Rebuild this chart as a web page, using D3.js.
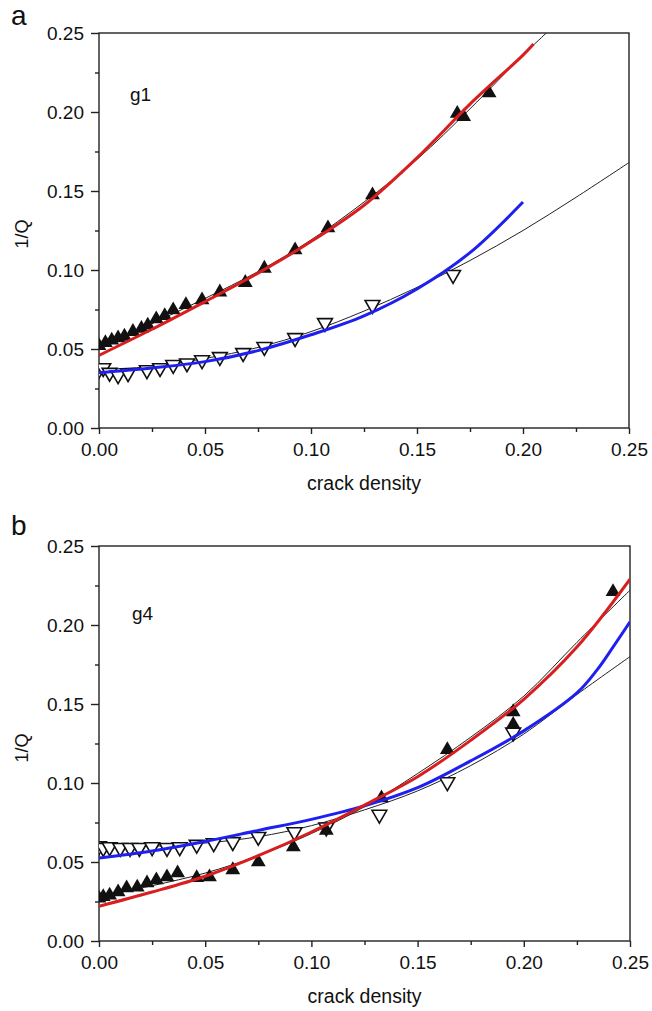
<!DOCTYPE html>
<html><head><meta charset="utf-8">
<script src="https://cdn.jsdelivr.net/npm/d3@7"></script>
<style>body{margin:0;background:#fff}svg{display:block}text{font-family:"Liberation Sans",Arial,sans-serif;fill:#111}</style>
</head><body><svg id="c" width="652" height="1011"></svg>
<script>
// ---------- data ----------
const xTicks = [0.00, 0.05, 0.10, 0.15, 0.20, 0.25];
const yTicks = [0.00, 0.05, 0.10, 0.15, 0.20, 0.25];
const xLabel = "crack density";
const yLabel = "1/Q";

// panel a (g1)
const aFilledX = [0.000,0.003,0.006,0.009,0.012,0.016,0.020,0.023,0.027,0.031,0.035,0.041,0.0486,0.057,0.069,0.078,0.0925,0.108,0.129,0.169,0.172,0.184];
const aFilledY = [0.052,0.054,0.0555,0.057,0.058,0.061,0.063,0.065,0.069,0.071,0.0747,0.078,0.081,0.086,0.092,0.101,0.1127,0.1266,0.1475,0.199,0.197,0.212];
const aOpenX = [0.000,0.002,0.005,0.009,0.0137,0.0226,0.0288,0.035,0.0415,0.0486,0.057,0.068,0.078,0.0925,0.1066,0.129,0.167];
const aOpenY = [0.037,0.038,0.035,0.0335,0.0348,0.0367,0.038,0.040,0.041,0.043,0.045,0.0475,0.0514,0.057,0.0665,0.078,0.097];
const aFitFilledX = [0,0.025,0.05,0.075,0.1,0.125,0.15,0.175,0.2,0.211];
const aFitFilledY = [0.050,0.066,0.082,0.099,0.119,0.143,0.170,0.202,0.236,0.250];
const aFitOpenX = [0,0.025,0.05,0.075,0.1,0.125,0.15,0.175,0.2,0.225,0.25];
const aFitOpenY = [0.037,0.039,0.044,0.051,0.061,0.074,0.089,0.106,0.125,0.146,0.168];
const aRedX = [0,0.025,0.05,0.075,0.1,0.125,0.15,0.175,0.2,0.205];
const aRedY = [0.046,0.0625,0.080,0.098,0.118,0.141,0.171,0.205,0.236,0.243];
const aBlueX = [0,0.025,0.05,0.075,0.1,0.125,0.15,0.175,0.2];
const aBlueY = [0.035,0.038,0.042,0.049,0.059,0.071,0.088,0.111,0.143];

// panel b (g4)
const bFilledX = [0.000,0.002,0.005,0.009,0.013,0.018,0.0226,0.027,0.032,0.037,0.046,0.052,0.063,0.075,0.0915,0.107,0.133,0.164,0.195,0.195,0.242];
const bFilledY = [0.027,0.028,0.029,0.031,0.0335,0.034,0.0367,0.0386,0.0405,0.043,0.040,0.0405,0.045,0.050,0.0595,0.070,0.0905,0.121,0.145,0.137,0.221];
const bOpenX = [0.000,0.002,0.005,0.010,0.0146,0.019,0.025,0.032,0.038,0.046,0.054,0.063,0.075,0.092,0.107,0.132,0.164,0.195];
const bOpenY = [0.060,0.059,0.0595,0.059,0.059,0.059,0.0595,0.059,0.0595,0.061,0.062,0.0627,0.066,0.069,0.072,0.080,0.1006,0.132];
const bFitFilledX = [0,0.025,0.05,0.075,0.1,0.125,0.15,0.175,0.2,0.225,0.25];
const bFitFilledY = [0.028,0.035,0.043,0.054,0.068,0.085,0.106,0.129,0.155,0.189,0.222];
const bFitOpenX = [0,0.025,0.05,0.075,0.1,0.125,0.15,0.175,0.2,0.225,0.25];
const bFitOpenY = [0.060,0.060,0.062,0.066,0.073,0.083,0.095,0.111,0.131,0.156,0.180];
const bRedX = [0,0.025,0.05,0.075,0.1,0.125,0.15,0.175,0.2,0.225,0.25];
const bRedY = [0.022,0.031,0.041,0.054,0.069,0.086,0.104,0.127,0.153,0.186,0.229];
const bBlueX = [0,0.025,0.05,0.075,0.1,0.125,0.15,0.175,0.2,0.225,0.2345,0.242,0.25];
const bBlueY = [0.0525,0.057,0.063,0.070,0.077,0.0855,0.097,0.114,0.133,0.157,0.1716,0.186,0.202];

const panels = [
  {letter:"a", tag:"g1", x0:99, x1:629, y0:428, y1:33, letterPos:[11,25], tagPos:[130,101], xlabY:490, ylabY:234,
   filledX:aFilledX, filledY:aFilledY, openX:aOpenX, openY:aOpenY,
   fits:[[aFitFilledX,aFitFilledY],[aFitOpenX,aFitOpenY]], red:[aRedX,aRedY], blue:[aBlueX,aBlueY]},
  {letter:"b", tag:"g4", x0:99, x1:630, y0:941, y1:546, letterPos:[11,535], tagPos:[132,620], xlabY:1003, ylabY:748,
   filledX:bFilledX, filledY:bFilledY, openX:bOpenX, openY:bOpenY,
   fits:[[bFitFilledX,bFitFilledY],[bFitOpenX,bFitOpenY]], red:[bRedX,bRedY], blue:[bBlueX,bBlueY]}
];

const svg = d3.select("#c");
panels.forEach(p => {
  const x = d3.scaleLinear().domain([0,0.25]).range([p.x0,p.x1]);
  const y = d3.scaleLinear().domain([0,0.25]).range([p.y0,p.y1]);
  const g = svg.append("g");
  const clipId = "clip"+p.letter;
  svg.append("clipPath").attr("id",clipId).append("rect")
    .attr("x",p.x0).attr("y",p.y1).attr("width",p.x1-p.x0).attr("height",p.y0-p.y1);

  // frame
  g.append("rect").attr("x",p.x0).attr("y",p.y1).attr("width",p.x1-p.x0).attr("height",p.y0-p.y1)
    .attr("fill","none").attr("stroke","#222").attr("stroke-width",1.4);

  // axes
  const minor = d3.range(0.025,0.25,0.05);
  const xa = g.append("g").attr("transform",`translate(0,${p.y0})`)
    .call(d3.axisBottom(x).tickValues(xTicks).tickFormat(d3.format(".2f")).tickSize(6).tickPadding(9));
  const xm = g.append("g").attr("transform",`translate(0,${p.y0})`)
    .call(d3.axisBottom(x).tickValues(minor).tickFormat("").tickSize(4));
  const ya = g.append("g").attr("transform",`translate(${p.x0},0)`)
    .call(d3.axisLeft(y).tickValues(yTicks).tickFormat(d3.format(".2f")).tickSize(8).tickPadding(7));
  const ym = g.append("g").attr("transform",`translate(${p.x0},0)`)
    .call(d3.axisLeft(y).tickValues(minor).tickFormat("").tickSize(4));
  [xa,xm,ya,ym].forEach(a => {
    a.select(".domain").remove();
    a.selectAll("line").attr("stroke","#222").attr("stroke-width",1.4);
    a.selectAll("text").attr("font-size",19).attr("font-family","Liberation Sans, Arial, sans-serif").attr("fill","#111");
  });

  // labels
  g.append("text").attr("x",p.letterPos[0]).attr("y",p.letterPos[1]).attr("font-size",28).text(p.letter);
  g.append("text").attr("x",p.tagPos[0]).attr("y",p.tagPos[1]).attr("font-size",19).text(p.tag);
  g.append("text").attr("x",(p.x0+p.x1)/2).attr("y",p.xlabY).attr("text-anchor","middle").attr("font-size",19.5).text(xLabel);
  g.append("text").attr("transform",`translate(28,${p.ylabY}) rotate(-90)`).attr("text-anchor","middle").attr("font-size",18).text(yLabel);

  const plot = g.append("g").attr("clip-path",`url(#${clipId})`);
  const line = d3.line().x(d=>x(d[0])).y(d=>y(d[1])).curve(d3.curveCatmullRom.alpha(0.5));
  const zip = (xs,ys) => xs.map((v,i)=>[v,ys[i]]);

  // thin black fits
  p.fits.forEach(f => plot.append("path").attr("d",line(zip(f[0],f[1])))
    .attr("fill","none").attr("stroke","#222").attr("stroke-width",1));

  // open down triangles
  const tri = d3.symbol().type(d3.symbolTriangle).size(95);
  plot.selectAll(null).data(zip(p.openX,p.openY)).join("path")
    .attr("d",tri).attr("transform",d=>`translate(${x(d[0])},${y(d[1])}) rotate(180)`)
    .attr("fill","#fff").attr("stroke","#111").attr("stroke-width",1.6);
  // filled up triangles
  plot.selectAll(null).data(zip(p.filledX,p.filledY)).join("path")
    .attr("d",tri).attr("transform",d=>`translate(${x(d[0])},${y(d[1])})`)
    .attr("fill","#111");

  // model curves
  plot.append("path").attr("d",line(zip(p.blue[0],p.blue[1])))
    .attr("fill","none").attr("stroke","#1f1ff0").attr("stroke-width",3);
  plot.append("path").attr("d",line(zip(p.red[0],p.red[1])))
    .attr("fill","none").attr("stroke","#d81e1e").attr("stroke-width",3);
});
</script></body></html>
